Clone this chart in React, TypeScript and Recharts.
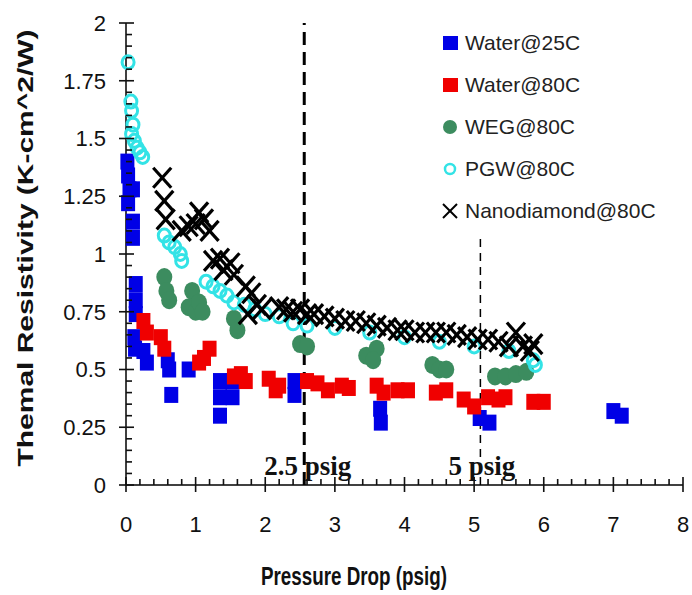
import React from "react";
import { ScatterChart, Scatter, XAxis, YAxis, ReferenceLine } from "recharts";

type Pt = { x: number; y: number };

const water25C: Pt[] = [
  { x: 0.02, y: 1.4 }, { x: 0.03, y: 1.34 }, { x: 0.05, y: 1.28 }, { x: 0.1, y: 1.28 }, { x: 0.03, y: 1.22 },
  { x: 0.1, y: 1.14 }, { x: 0.1, y: 1.07 }, { x: 0.14, y: 0.87 }, { x: 0.14, y: 0.8 }, { x: 0.14, y: 0.74 },
  { x: 0.12, y: 0.64 }, { x: 0.13, y: 0.59 }, { x: 0.25, y: 0.58 }, { x: 0.3, y: 0.53 }, { x: 0.6, y: 0.54 },
  { x: 0.62, y: 0.5 }, { x: 0.9, y: 0.5 }, { x: 0.65, y: 0.39 }, { x: 1.35, y: 0.45 }, { x: 1.35, y: 0.38 },
  { x: 1.35, y: 0.3 }, { x: 1.53, y: 0.45 }, { x: 1.53, y: 0.38 }, { x: 2.42, y: 0.45 }, { x: 2.42, y: 0.39 },
  { x: 3.65, y: 0.33 }, { x: 3.66, y: 0.27 }, { x: 5.08, y: 0.29 }, { x: 5.22, y: 0.27 }, { x: 7.0, y: 0.32 },
  { x: 7.12, y: 0.3 },
];

const water80C: Pt[] = [
  { x: 0.25, y: 0.71 }, { x: 0.3, y: 0.66 }, { x: 0.5, y: 0.64 }, { x: 0.55, y: 0.59 }, { x: 1.05, y: 0.53 },
  { x: 1.12, y: 0.55 }, { x: 1.2, y: 0.59 }, { x: 1.55, y: 0.47 }, { x: 1.65, y: 0.48 }, { x: 1.72, y: 0.45 },
  { x: 2.05, y: 0.46 }, { x: 2.15, y: 0.41 }, { x: 2.2, y: 0.43 }, { x: 2.6, y: 0.45 }, { x: 2.75, y: 0.44 },
  { x: 2.9, y: 0.41 }, { x: 3.1, y: 0.43 }, { x: 3.2, y: 0.42 }, { x: 3.6, y: 0.43 }, { x: 3.7, y: 0.4 },
  { x: 3.9, y: 0.41 }, { x: 4.05, y: 0.41 }, { x: 4.45, y: 0.4 }, { x: 4.6, y: 0.41 }, { x: 4.85, y: 0.37 },
  { x: 5.0, y: 0.34 }, { x: 5.2, y: 0.38 }, { x: 5.35, y: 0.37 }, { x: 5.45, y: 0.38 }, { x: 5.85, y: 0.36 },
  { x: 6.0, y: 0.36 },
];

const weg80C: Pt[] = [
  { x: 0.55, y: 0.9 }, { x: 0.58, y: 0.84 }, { x: 0.62, y: 0.8 }, { x: 0.95, y: 0.84 }, { x: 0.9, y: 0.77 },
  { x: 1.0, y: 0.75 }, { x: 1.05, y: 0.79 }, { x: 1.1, y: 0.75 }, { x: 1.55, y: 0.72 }, { x: 1.6, y: 0.67 },
  { x: 2.5, y: 0.61 }, { x: 2.6, y: 0.6 }, { x: 3.45, y: 0.56 }, { x: 3.6, y: 0.59 }, { x: 3.55, y: 0.54 },
  { x: 4.4, y: 0.52 }, { x: 4.5, y: 0.5 }, { x: 4.6, y: 0.5 }, { x: 5.3, y: 0.47 }, { x: 5.45, y: 0.47 },
  { x: 5.6, y: 0.48 }, { x: 5.75, y: 0.49 },
];

const pgw80C: Pt[] = [
  { x: 0.03, y: 1.83 }, { x: 0.07, y: 1.66 }, { x: 0.08, y: 1.62 }, { x: 0.1, y: 1.56 }, { x: 0.08, y: 1.52 },
  { x: 0.12, y: 1.49 }, { x: 0.16, y: 1.46 }, { x: 0.2, y: 1.44 }, { x: 0.24, y: 1.42 }, { x: 0.55, y: 1.08 },
  { x: 0.62, y: 1.05 }, { x: 0.7, y: 1.03 }, { x: 0.78, y: 1.0 }, { x: 0.8, y: 0.97 }, { x: 1.15, y: 0.88 },
  { x: 1.25, y: 0.86 }, { x: 1.35, y: 0.84 }, { x: 1.45, y: 0.82 }, { x: 1.55, y: 0.79 }, { x: 1.7, y: 0.78 },
  { x: 1.85, y: 0.76 }, { x: 2.0, y: 0.74 }, { x: 2.2, y: 0.73 }, { x: 2.4, y: 0.7 }, { x: 2.6, y: 0.69 },
  { x: 3.0, y: 0.68 }, { x: 3.5, y: 0.66 }, { x: 4.0, y: 0.64 }, { x: 4.5, y: 0.62 }, { x: 5.0, y: 0.6 },
  { x: 5.5, y: 0.58 }, { x: 5.85, y: 0.54 }, { x: 5.88, y: 0.52 },
];

const nano80C: Pt[] = [
  { x: 0.52, y: 1.33 }, { x: 0.55, y: 1.23 }, { x: 0.57, y: 1.15 }, { x: 0.8, y: 1.1 }, { x: 0.9, y: 1.12 },
  { x: 1.0, y: 1.13 }, { x: 1.05, y: 1.18 }, { x: 1.12, y: 1.15 }, { x: 1.2, y: 1.1 }, { x: 1.25, y: 0.97 },
  { x: 1.35, y: 0.98 }, { x: 1.4, y: 0.93 }, { x: 1.5, y: 0.96 }, { x: 1.55, y: 0.91 }, { x: 1.72, y: 0.86 },
  { x: 1.8, y: 0.83 }, { x: 1.88, y: 0.78 }, { x: 1.75, y: 0.74 }, { x: 1.95, y: 0.76 }, { x: 2.2, y: 0.77 },
  { x: 2.3, y: 0.76 }, { x: 2.4, y: 0.75 }, { x: 2.5, y: 0.76 }, { x: 2.6, y: 0.74 }, { x: 2.7, y: 0.74 },
  { x: 2.85, y: 0.73 }, { x: 3.0, y: 0.72 }, { x: 3.15, y: 0.71 }, { x: 3.3, y: 0.71 }, { x: 3.45, y: 0.7 },
  { x: 3.6, y: 0.69 }, { x: 3.75, y: 0.68 }, { x: 3.9, y: 0.67 }, { x: 4.0, y: 0.67 }, { x: 4.15, y: 0.66 },
  { x: 4.3, y: 0.66 }, { x: 4.45, y: 0.66 }, { x: 4.6, y: 0.66 }, { x: 4.75, y: 0.65 }, { x: 4.9, y: 0.64 },
  { x: 5.05, y: 0.63 }, { x: 5.2, y: 0.63 }, { x: 5.35, y: 0.62 }, { x: 5.5, y: 0.6 }, { x: 5.6, y: 0.66 },
  { x: 5.7, y: 0.6 }, { x: 5.8, y: 0.58 }, { x: 5.85, y: 0.61 },
];

const xMajor = [0, 1, 2, 3, 4, 5, 6, 7, 8];
const yMajor = [0, 0.25, 0.5, 0.75, 1, 1.25, 1.5, 1.75, 2];
const refLow = 2.56;
const refHigh = 5.09;
const refHighTop = 1.08;

const BLUE = "#0000e6";
const RED = "#f00000";
const GREEN = "#3c8c5f";
const CYAN = "#33e3e6";
const TICK = "#111";
const SANS = "'Liberation Sans', Arial, sans-serif";
const SERIF = "'Liberation Serif', 'Times New Roman', serif";

// minor ticks: split every major interval in 5
const subdivide = (major: number[], parts: number) => {
  const out: number[] = [];
  for (let i = 0; i < major.length - 1; i++) {
    for (let k = 0; k < parts; k++) {
      out.push(+(major[i] + ((major[i + 1] - major[i]) * k) / parts).toFixed(4));
    }
  }
  out.push(major[major.length - 1]);
  return out;
};
const xTicks = subdivide(xMajor, 5);
const yTicks = subdivide(yMajor, 5);
const isMajor = (v: number, majors: number[]) => majors.some((m) => Math.abs(m - v) < 1e-6);

const renderYTick = (props: any) => {
  const x = Number(props.x);
  const y = Number(props.y);
  const v = Number(props.payload.value);
  const major = isMajor(v, yMajor);
  return (
    <g>
      {major ? (
        <rect x={x - 7} y={y - 0.8} width={15} height={1.6} fill={TICK} />
      ) : (
        <rect x={x} y={y - 0.8} width={6} height={1.6} fill={TICK} />
      )}
      {major && (
        <text x={x - 20} y={y} dy="0.36em" textAnchor="end" fontSize={22} fontFamily={SANS} fill="#111">
          {String(v)}
        </text>
      )}
    </g>
  );
};

const renderXTick = (props: any) => {
  const x = Number(props.x);
  const y = Number(props.y);
  const v = Number(props.payload.value);
  const major = isMajor(v, xMajor);
  return (
    <g>
      {major ? (
        <rect x={x - 0.8} y={y - 8} width={1.6} height={15} fill={TICK} />
      ) : (
        <rect x={x - 0.8} y={y - 6} width={1.6} height={6} fill={TICK} />
      )}
      {major && (
        <text x={x} y={y + 47} textAnchor="middle" fontSize={22} fontFamily={SANS} fill="#111">
          {String(v)}
        </text>
      )}
    </g>
  );
};

const Square = (color: string) => (p: any) => (
  <rect x={p.cx - 7} y={p.cy - 8} width={14} height={16} fill={color} />
);
const Dot = (p: any) => <ellipse cx={p.cx} cy={p.cy} rx={8} ry={9} fill={GREEN} />;
const Ring = (p: any) => <ellipse cx={p.cx} cy={p.cy} rx={6} ry={6.5} fill="none" stroke={CYAN} strokeWidth={3} />;
const Cross = (p: any) => (
  <g stroke="#000" strokeWidth={3.2}>
    <line x1={p.cx - 9} y1={p.cy - 10} x2={p.cx + 9} y2={p.cy + 10} />
    <line x1={p.cx - 9} y1={p.cy + 10} x2={p.cx + 9} y2={p.cy - 10} />
  </g>
);

const psigLabel = (text: string, dx: number) => (props: any) => {
  const vb = props.viewBox || {};
  return (
    <text x={vb.x - dx} y={vb.y + vb.height - 10} fontSize={27} fontWeight="bold" fontFamily={SERIF} fill="#111">
      {text}
    </text>
  );
};

const legendItems = [
  { name: "Water@25C", marker: <rect x={1} y={1} width={15} height={14} fill={BLUE} /> },
  { name: "Water@80C", marker: <rect x={1} y={1} width={15} height={14} fill={RED} /> },
  { name: "WEG@80C", marker: <circle cx={8} cy={8} r={7} fill={GREEN} /> },
  { name: "PGW@80C", marker: <circle cx={8} cy={8} r={5} fill="none" stroke={CYAN} strokeWidth={2.5} /> },
  {
    name: "Nanodiamond@80C",
    marker: (
      <g stroke="#000" strokeWidth={2}>
        <line x1={1} y1={1} x2={15} y2={15} />
        <line x1={1} y1={15} x2={15} y2={1} />
      </g>
    ),
  },
];

export default function App() {
  return (
    <div style={{ position: "absolute", left: 0, top: 0, width: 692, height: 595, background: "#fff" }}>
      <ScatterChart width={692} height={595} margin={{ top: 23, right: 9, bottom: 0, left: 0 }}>
        <XAxis
          type="number"
          dataKey="x"
          domain={[0, 8]}
          ticks={xTicks}
          interval={0}
          tick={renderXTick}
          tickLine={false}
          tickSize={0}
          tickMargin={0}
          height={110}
          axisLine={{ stroke: "#000", strokeWidth: 1.5 }}
        />
        <YAxis
          type="number"
          dataKey="y"
          domain={[0, 2]}
          ticks={yTicks}
          interval={0}
          tick={renderYTick}
          tickLine={false}
          tickSize={0}
          tickMargin={0}
          width={126}
          axisLine={{ stroke: "#000", strokeWidth: 1.5 }}
        />
        <ReferenceLine
          x={refLow}
          stroke="#000"
          strokeWidth={3}
          strokeDasharray="13 7"
          label={psigLabel("2.5 psig", 40)}
        />
        <ReferenceLine
          segment={[{ x: refHigh, y: 0 }, { x: refHigh, y: refHighTop }]}
          stroke="#000"
          strokeWidth={1.5}
          strokeDasharray="8 6"
          label={psigLabel("5 psig", 32)}
        />
        <Scatter name="Water@25C" data={water25C} shape={Square(BLUE)} isAnimationActive={false} />
        <Scatter name="Water@80C" data={water80C} shape={Square(RED)} isAnimationActive={false} />
        <Scatter name="WEG@80C" data={weg80C} shape={Dot} isAnimationActive={false} />
        <Scatter name="PGW@80C" data={pgw80C} shape={Ring} isAnimationActive={false} />
        <Scatter name="Nanodiamond@80C" data={nano80C} shape={Cross} isAnimationActive={false} />
      </ScatterChart>

      <svg width={692} height={595} style={{ position: "absolute", left: 0, top: 0, pointerEvents: "none" }}>
        <text
          transform="translate(33,248) rotate(-90)"
          textAnchor="middle"
          fontSize={22}
          fontWeight="bold"
          fontFamily={SANS}
          fill="#111"
          textLength={437}
          lengthAdjust="spacingAndGlyphs"
        >
          Themal Resistivity (K-cm^2/W)
        </text>
        <text
          x={354}
          y={585}
          textAnchor="middle"
          fontSize={25}
          fontWeight="bold"
          fontFamily={SANS}
          fill="#111"
          textLength={186}
          lengthAdjust="spacingAndGlyphs"
        >
          Pressure Drop (psig)
        </text>
      </svg>

      <div style={{ position: "absolute", left: 442, top: 22, fontFamily: SANS, fontSize: 21, color: "#222" }}>
        {legendItems.map((it) => (
          <div key={it.name} style={{ display: "flex", alignItems: "center", height: 42 }}>
            <svg width={17} height={16} style={{ marginRight: 6 }}>
              {it.marker}
            </svg>
            <span>{it.name}</span>
          </div>
        ))}
      </div>
    </div>
  );
}
